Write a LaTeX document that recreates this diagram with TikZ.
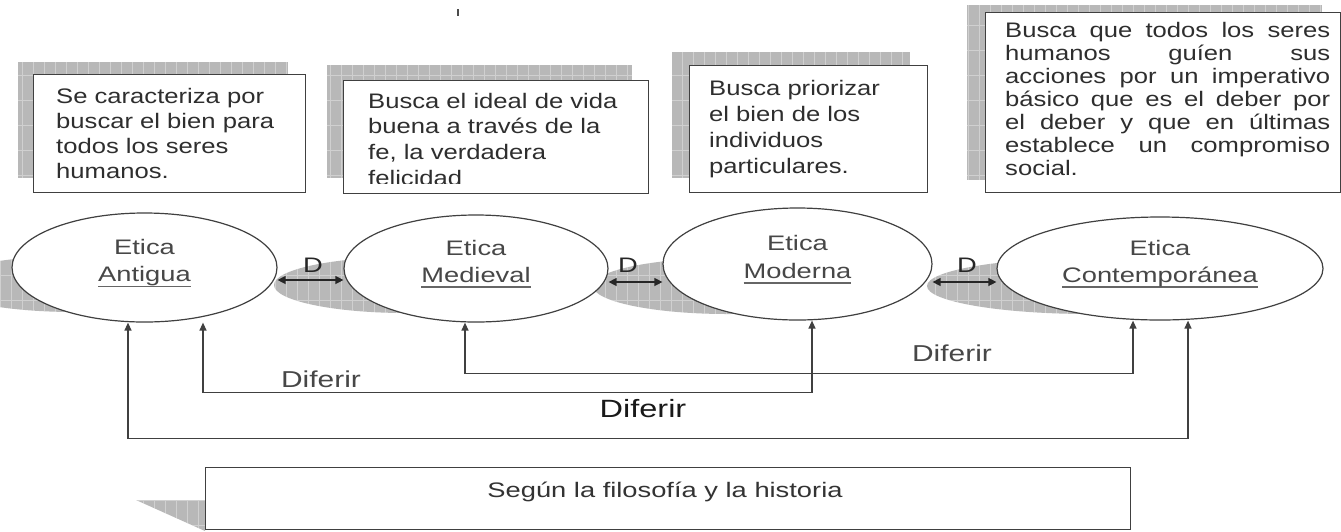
\documentclass[tikz,border=0pt]{standalone}
\usepackage{fontspec}
\setmainfont{Liberation Sans}
\newfontfamily\boxfont[FakeStretch=1.22]{Liberation Sans}
\newfontfamily\lblfont[FakeStretch=1.3]{Liberation Sans}
\usetikzlibrary{arrows.meta,shapes.geometric}
\newsavebox\ulbox
\newcommand\ulword[1]{\sbox\ulbox{#1}\rlap{\color{black!60}\rule[-5.5pt]{\wd\ulbox}{1.4pt}}\usebox\ulbox}
\newcommand\shadowarea[5]{\begin{scope}\clip #1;\fill[shadowfill] (#2,#3) rectangle (#4,#5);\draw[gridln,xstep=11pt,ystep=25pt] (#2,#3) grid (#4,#5);\end{scope}}
\newcommand\boxlines[3]{\parbox[t]{#1}{\raggedright\boxfont\fontsize{21}{#2}\selectfont #3}}
\begin{document}
\begin{tikzpicture}[x=1pt,y=-1pt,
  shadowfill/.style={fill=black!28},
  gridln/.style={draw=white,opacity=0.35,line width=0.8pt},
  boxframe/.style={draw=black!75,line width=1.3pt,fill=white,inner sep=0pt},
  boxtxt/.style={text=black!82,inner sep=0pt,anchor=base west},
  ell/.style={ellipse,draw=black!75,line width=1.2pt,fill=white,inner sep=0pt},
  elltxt/.style={text=black!72,inner sep=0pt,anchor=base,font=\lblfont\fontsize{21}{25}\selectfont},
  diftxt/.style={text=black!72,inner sep=0pt,anchor=base,font=\lblfont\fontsize{23}{25}\selectfont},
  conn/.style={draw=black!75,line width=1.3pt,{Triangle[length=8pt,width=7pt]}-{Triangle[length=8pt,width=7pt]}},
  dbl/.style={draw=black!85,line width=1.3pt,{Triangle[length=8pt,width=8pt]}-{Triangle[length=8pt,width=8pt]}},
]
\useasboundingbox (0,0) rectangle (1341,531);
\fill[white] (0,0) rectangle (1341,531);

% small mark at the top
\draw[black!70,line width=1.5pt] (458,9) -- (458,16);

% box shadows
\shadowarea{(18,62) rectangle (288,178)}{18}{62}{288}{178}
\shadowarea{(327,65) rectangle (632,178)}{327}{65}{632}{178}
\shadowarea{(672,52) rectangle (910,178)}{672}{52}{910}{178}
\shadowarea{(967,5) rectangle (1322,180)}{967}{5}{1322}{180}

% boxes
\node[boxframe,minimum width=272pt,minimum height=118pt,anchor=north west] (b1) at (33,74) {};
\node[boxframe,minimum width=305pt,minimum height=113pt,anchor=north west] (b2) at (343,80) {};
\node[boxframe,minimum width=238pt,minimum height=127pt,anchor=north west] (b3) at (689,65) {};
\node[boxframe,minimum width=355pt,minimum height=180pt,anchor=north west] (b4) at (985,12) {};

\node[boxtxt] (t1) at (56,103) {\boxlines{240pt}{25pt}{Se caracteriza por\\buscar el bien para\\todos los seres\\humanos.}};
\begin{scope}
\clip (343,80) rectangle (648,183);
\node[boxtxt] (t2) at (368,108) {\boxlines{270pt}{25.7pt}{Busca el ideal de vida\\buena a través de la\\fe, la verdadera\\felicidad}};
\end{scope}
\node[boxtxt] (t3) at (709,95) {\boxlines{210pt}{26pt}{Busca priorizar\\el bien de los\\individuos\\particulares.}};
\node[boxtxt] (t4) at (1005,37) {\parbox[t]{325pt}{\boxfont\fontsize{21}{23}\selectfont Busca que todos los seres\linebreak humanos guíen sus\linebreak acciones por un imperativo\linebreak básico que es el deber por\linebreak el deber y que en últimas\linebreak establece un compromiso\linebreak social.}};

% ellipse shadows
\shadowarea{(74.5,284) ellipse [x radius=132.5, y radius=28]}{-70}{250}{215}{320}
\shadowarea{(406,285) ellipse [x radius=132, y radius=28]}{270}{250}{540}{320}
\shadowarea{(727.5,286) ellipse [x radius=134.5, y radius=28]}{590}{250}{865}{320}
\shadowarea{(1090,286) ellipse [x radius=163, y radius=28]}{925}{250}{1255}{320}

% ellipses
\node[ell,minimum width=265pt,minimum height=109pt] (e1) at (144.5,267.5) {};
\node[ell,minimum width=264pt,minimum height=107pt] (e2) at (476,268.5) {};
\node[ell,minimum width=269pt,minimum height=112pt] (e3) at (797.5,264) {};
\node[ell,minimum width=326pt,minimum height=103pt] (e4) at (1160,268.5) {};

\node[elltxt] (e1a) at (144.5,254.5) {Etica};
\node[elltxt] (e1b) at (144.5,281.5) {\ulword{Antigua}};
\node[elltxt] (e2a) at (476,255) {Etica};
\node[elltxt] (e2b) at (476,282) {\ulword{Medieval}};
\node[elltxt] (e3a) at (797.5,250) {Etica};
\node[elltxt] (e3b) at (797.5,278) {\ulword{Moderna}};
\node[elltxt] (e4a) at (1160,255) {Etica};
\node[elltxt] (e4b) at (1160,282) {\ulword{Contemporánea}};

% D arrows
\draw[dbl] ([yshift=-12.5pt]e1.east) -- ([yshift=-11.5pt]e2.west);
\draw[dbl] ([yshift=-13.5pt]e2.east) -- ([yshift=-18pt]e3.west);
\draw[dbl] ([yshift=-18pt]e3.east) -- ([yshift=-13.5pt]e4.west);
\node[elltxt,text=black!85] (d1) at (313,272) {D};
\node[elltxt,text=black!85] (d2) at (628,272) {D};
\node[elltxt,text=black!85] (d3) at (967,272) {D};

% Diferir connectors
\draw[conn] ([xshift=-11pt]e2.south) -- ++(0,51) -| ([xshift=-27pt]e4.south);
\draw[conn] ([xshift=58.5pt]e1.south) -- ++(0,70) -| ([xshift=14.5pt]e3.south);
\draw[conn] ([xshift=-16.5pt]e1.south) -- ++(0,116) -| ([xshift=28pt]e4.south);
\node[diftxt] (f1) at (321,387) {Diferir};
\node[diftxt,text=black!90,font=\lblfont\fontsize{25}{27}\selectfont] (f2) at (643,417) {Diferir};
\node[diftxt] (f3) at (952,361) {Diferir};

% bottom box
\shadowarea{(136,500) -- (205,500) -- (205,531) -- cycle}{130}{495}{210}{531}
\node[boxframe,minimum width=925pt,minimum height=62pt,anchor=north west] (b5) at (205,467) {};
\node[elltxt,text=black!80] (t5) at (665,497) {Según la filosofía y la historia};
\end{tikzpicture}
\end{document}
